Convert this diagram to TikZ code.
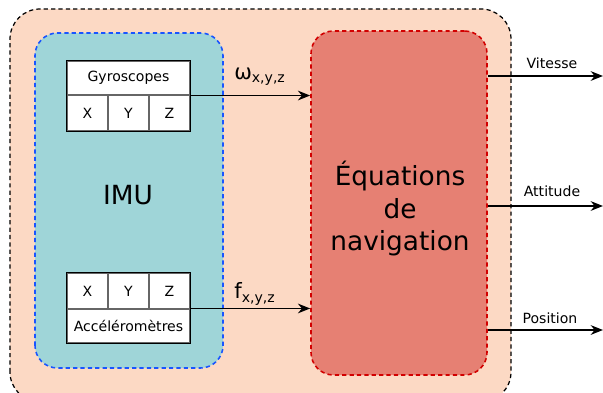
\documentclass[tikz,border=0pt]{standalone}
\usepackage{fontspec}
\setmainfont{DejaVu Sans}
\usetikzlibrary{arrows.meta}

\definecolor{peach}{RGB}{252,217,196}
\definecolor{imuteal}{RGB}{159,213,216}
\definecolor{navred}{RGB}{230,128,115}
\definecolor{imublue}{RGB}{25,85,255}
\definecolor{navline}{RGB}{210,0,0}

\tikzset{
  cell/.style={draw=black!60,fill=white,line width=0.6pt,minimum width=0.82cm,minimum height=0.72cm,inner sep=0pt,font=\fontsize{8}{9}\selectfont},
  title/.style={draw=black!60,fill=white,line width=0.6pt,minimum width=2.46cm,minimum height=0.68cm,inner sep=0pt,font=\fontsize{8}{9}\selectfont},
  flow/.style={-{Stealth[length=7pt,width=5.5pt]},line width=0.8pt},
  outlbl/.style={font=\fontsize{8}{9}\selectfont,inner sep=1pt},
  dashes/.style={dash pattern=on 2.4pt off 1.8pt}
}

\begin{document}
\begin{tikzpicture}
  \useasboundingbox (0,0) rectangle (12.06,7.84);

  \draw[fill=peach,dashes,line width=0.7pt,rounded corners=0.6cm] (0.2,-0.2) rectangle (10.22,7.66);
  \draw[fill=imuteal,draw=imublue,dashes,line width=0.9pt,rounded corners=0.45cm] (0.7,0.48) rectangle (4.46,7.18);

  \node[fill=navred,draw=navline,dashes,line width=0.9pt,rounded corners=0.45cm,
        minimum width=3.52cm,minimum height=6.88cm] (nav) at (7.98,3.78) {};
  \node[align=center,font=\fontsize{15}{18.5}\selectfont] (navtxt) at (8.0,3.66) {Équations\\de\\navigation};

  \node[font=\fontsize{15}{18}\selectfont] (imu) at (2.56,3.94) {IMU};

  % gyroscopes
  \node[title] (gyro) at (2.57,6.28) {Gyroscopes};
  \foreach \a/\x in {X/1.75,Y/2.57,Z/3.39} {
    \node[cell] (gyro\a) at (\x,5.58) {\a};
  }
  \draw[line width=1.1pt] (gyroX.south west) rectangle (gyro.north east);

  % accelerometres
  \node[title] (acc) at (2.57,1.32) {Accéléromètres};
  \foreach \a/\x in {X/1.75,Y/2.57,Z/3.39} {
    \node[cell] (acc\a) at (\x,2.02) {\a};
  }
  \draw[line width=1.1pt] (acc.south west) rectangle (accZ.north east);

  \draw[flow] (gyro.south east) -- (gyro.south east -| nav.west);
  \draw[flow] (acc.north east) -- (acc.north east -| nav.west);
  \node[font=\fontsize{12}{14}\selectfont] (omega) at (5.2,6.3) {ω\textsubscript{x,y,z}};
  \node[font=\fontsize{12}{14}\selectfont] (force) at (5.1,1.96) {f\textsubscript{x,y,z}};

  % sorties
  \coordinate (vit) at (12.06,6.32);
  \coordinate (att) at (12.06,3.72);
  \coordinate (pos) at (12.06,1.24);
  \draw[flow] (vit -| nav.east) -- (vit);
  \draw[flow] (att -| nav.east) -- (att);
  \draw[flow] (pos -| nav.east) -- (pos);
  \node[outlbl] (vitlbl) at (11.04,6.58) {Vitesse};
  \node[outlbl] (attlbl) at (11.04,4.02) {Attitude};
  \node[outlbl] (poslbl) at (11.0,1.48) {Position};
\end{tikzpicture}
\end{document}
